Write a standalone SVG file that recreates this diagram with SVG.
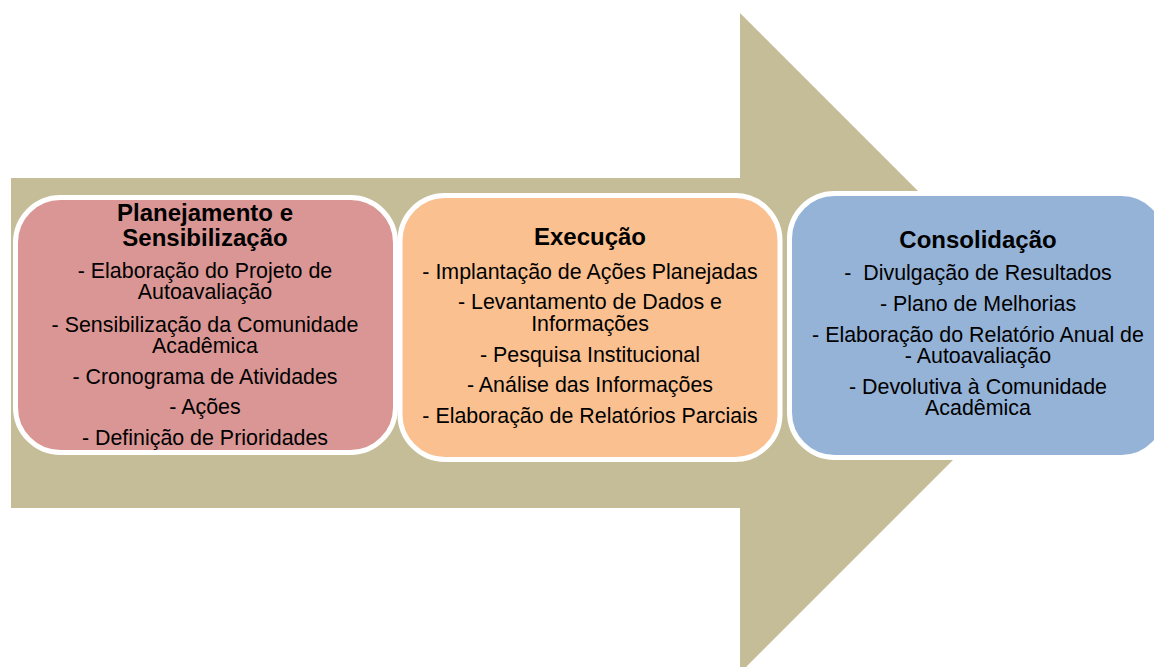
<svg xmlns="http://www.w3.org/2000/svg" width="1154" height="667" viewBox="0 0 1154 667">
<style>
.box{stroke:#FFFFFF;stroke-width:5}
.t{font-family:"Liberation Sans",Arial,sans-serif;font-weight:bold;font-size:24px;fill:#000;text-anchor:middle}
.b{font-family:"Liberation Sans",Arial,sans-serif;font-size:21.4px;fill:#000;text-anchor:middle}
</style>
<rect width="1154" height="667" fill="#FFFFFF"/>
<g id="arrow">
<polygon points="11,178 740,178 740,13 1070,343 740,673 740,508 11,508" fill="#C4BD97"/>
</g>
<g id="connectors"></g>
<g id="node-planejamento">
<rect class="box" x="15.5" y="197.5" width="380" height="255" rx="45" ry="45" fill="#D99694"/>
<text class="t" x="205" y="221">Planejamento e</text>
<text class="t" x="205" y="246">Sensibilização</text>
<text class="b" x="205" y="278">- Elaboração do Projeto de</text>
<text class="b" x="205" y="299">Autoavaliação</text>
<text class="b" x="205" y="331.5">- Sensibilização da Comunidade</text>
<text class="b" x="205" y="352.5">Acadêmica</text>
<text class="b" x="205" y="384">- Cronograma de Atividades</text>
<text class="b" x="205" y="414">- Ações</text>
<text class="b" x="205" y="445">- Definição de Prioridades</text>
</g>
<g id="node-execucao">
<rect class="box" x="400" y="195.5" width="380" height="264" rx="45" ry="45" fill="#FAC090"/>
<text class="t" x="590" y="245">Execução</text>
<text class="b" x="590" y="279">- Implantação de Ações Planejadas</text>
<text class="b" x="590" y="309">- Levantamento de Dados e</text>
<text class="b" x="590" y="330.5">Informações</text>
<text class="b" x="590" y="361.5">- Pesquisa Institucional</text>
<text class="b" x="590" y="392">- Análise das Informações</text>
<text class="b" x="590" y="423">- Elaboração de Relatórios Parciais</text>
</g>
<g id="node-consolidacao">
<rect class="box" x="789.5" y="193.5" width="377" height="264" rx="45" ry="45" fill="#95B3D7"/>
<text class="t" x="978" y="248">Consolidação</text>
<text class="b" x="978" y="280" xml:space="preserve">-  Divulgação de Resultados</text>
<text class="b" x="978" y="311">- Plano de Melhorias</text>
<text class="b" x="978" y="341.5">- Elaboração do Relatório Anual de</text>
<text class="b" x="978" y="363">- Autoavaliação</text>
<text class="b" x="978" y="394">- Devolutiva à Comunidade</text>
<text class="b" x="978" y="415">Acadêmica</text>
</g>
</svg>
